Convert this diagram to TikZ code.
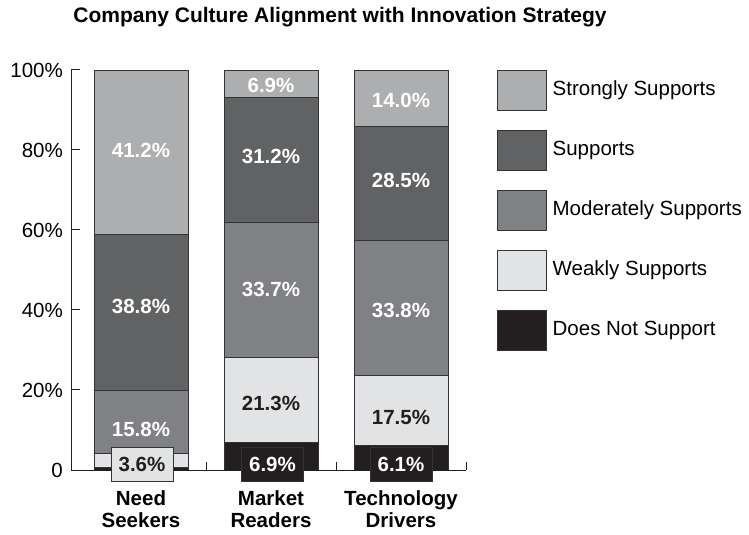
\documentclass[tikz,border=0pt]{standalone}
\usepackage{fontspec}
\setmainfont{Liberation Sans}
\usetikzlibrary{positioning}
\definecolor{cStrong}{HTML}{ADAEB0}
\definecolor{cSupp}{HTML}{616264}
\definecolor{cModer}{HTML}{808184}
\definecolor{cWeak}{HTML}{E2E3E4}
\definecolor{cNone}{HTML}{231F20}
\definecolor{cLine}{HTML}{333333}
\tikzset{
    barchart/.style={
        x=1pt, y=4pt,
        % Segments of the stacked bars
        seg/.style={draw=cLine, line width=0.9pt},
        % Percentages inside the bars
        value/.style={font=\bfseries\fontsize{20.5}{22}\selectfont,
                      text=white, inner sep=0pt},
        darkvalue/.style={value, text=cNone},
        valuebox/.style={value, draw=cLine, line width=0.9pt,
                         minimum width=62pt, minimum height=34pt},
        % Axes and their labels
        axis/.style={draw=cNone, line width=1pt},
        ticklabel/.style={anchor=east, inner sep=0pt,
                          font=\fontsize{20.5}{22}\selectfont},
        catlabel/.style={align=center, inner sep=0pt,
                         font=\bfseries\fontsize{20.5}{22}\selectfont},
        % Legend
        legendbox/.style={draw=cLine, line width=0.9pt, inner sep=0pt,
                          minimum width=49pt, minimum height=40pt},
        legendtext/.style={anchor=west, inner sep=0pt,
                           font=\fontsize{20.5}{22}\selectfont}
    }
}

\begin{document}
\begin{tikzpicture}[barchart]
  \useasboundingbox (0,-16.25) rectangle (749,117.5);
  % Title
  \node[font=\bfseries\fontsize{21}{24}\selectfont] (title) at (340,113.1)
    {Company Culture Alignment with Innovation Strategy};

  % Need Seekers
  \draw[seg, fill=cNone]   (94,0)    rectangle (188,0.6);
  \draw[seg, fill=cWeak]   (94,0.6)  rectangle (188,4.2);
  \draw[seg, fill=cModer]  (94,4.2)  rectangle (188,20);
  \draw[seg, fill=cSupp]   (94,20)   rectangle (188,58.8);
  \draw[seg, fill=cStrong] (94,58.8) rectangle (188,100);
  \node[value] (nsStrong) at (141,80)    {41.2\%};
  \node[value] (nsSupp)   at (141,40.8)  {38.8\%};
  \node[value] (nsModer)  at (141,10.25) {15.8\%};

  % Market Readers
  \draw[seg, fill=cNone]   (224,0)    rectangle (318,6.9);
  \draw[seg, fill=cWeak]   (224,6.9)  rectangle (318,28.2);
  \draw[seg, fill=cModer]  (224,28.2) rectangle (318,61.9);
  \draw[seg, fill=cSupp]   (224,61.9) rectangle (318,93.1);
  \draw[seg, fill=cStrong] (224,93.1) rectangle (318,100);
  \node[value]     (mrStrong) at (271,96.25) {6.9\%};
  \node[value]     (mrSupp)   at (271,78.3)  {31.2\%};
  \node[value]     (mrModer)  at (271,45.2)  {33.7\%};
  \node[darkvalue] (mrWeak)   at (271,16.75) {21.3\%};

  % Technology Drivers
  \draw[seg, fill=cNone]   (354,0)    rectangle (448,6.1);
  \draw[seg, fill=cWeak]   (354,6.1)  rectangle (448,23.6);
  \draw[seg, fill=cModer]  (354,23.6) rectangle (448,57.4);
  \draw[seg, fill=cSupp]   (354,57.4) rectangle (448,85.9);
  \draw[seg, fill=cStrong] (354,85.9) rectangle (448,99.9);
  \node[value]     (tdStrong) at (401,92.5)  {14.0\%};
  \node[value]     (tdSupp)   at (401,72.3)  {28.5\%};
  \node[value]     (tdModer)  at (401,40)    {33.8\%};
  \node[darkvalue] (tdWeak)   at (401,13.25) {17.5\%};

  % Axes
  \draw[axis] (71,100) -- (71,0) -- (466,0);
  \foreach \p in {20,40,60,80,100}
    \draw[axis] (71,\p) -- (80,\p);
  \foreach \x in {206,336,466}
    \draw[axis] (\x,0) -- (\x,2);
  \node[ticklabel] (y0) at (63,0) {0};
  \foreach \p in {20,40,60,80,100}
    \node[ticklabel] (y\p) at (63,\p) {\p\%};

  % Values at the foot of the bars
  \node[valuebox, fill=cWeak, text=cNone] (nsWeak) at (142,1.5) {3.6\%};
  \node[valuebox, fill=cNone] (mrNone) at (272.5,1.5) {6.9\%};
  \node[valuebox, fill=cNone] (tdNone) at (401,1.5) {6.1\%};

  % Categories
  \node[catlabel] (ns) at (141,-9.75) {Need\\Seekers};
  \node[catlabel] (mr) at (271,-9.75) {Market\\Readers};
  \node[catlabel] (td) at (401,-9.75) {Technology\\Drivers};

  % Legend
  \node[legendbox, fill=cStrong] (kStrong) at (521.5,94.875) {};
  \node[legendbox, fill=cSupp]   (kSupp)   at (521.5,79.875) {};
  \node[legendbox, fill=cModer]  (kModer)  at (521.5,64.875) {};
  \node[legendbox, fill=cWeak]   (kWeak)   at (521.5,49.875) {};
  \node[legendbox, fill=cNone]   (kNone)   at (521.5,34.875) {};
  \node[legendtext, right=6pt of kStrong] (tStrong) {Strongly Supports};
  \node[legendtext, right=6pt of kSupp]   (tSupp)   {Supports};
  \node[legendtext, right=6pt of kModer]  (tModer)  {Moderately Supports};
  \node[legendtext, right=6pt of kWeak]   (tWeak)   {Weakly Supports};
  \node[legendtext, right=6pt of kNone]   (tNone)   {Does Not Support};
\end{tikzpicture}
\end{document}
